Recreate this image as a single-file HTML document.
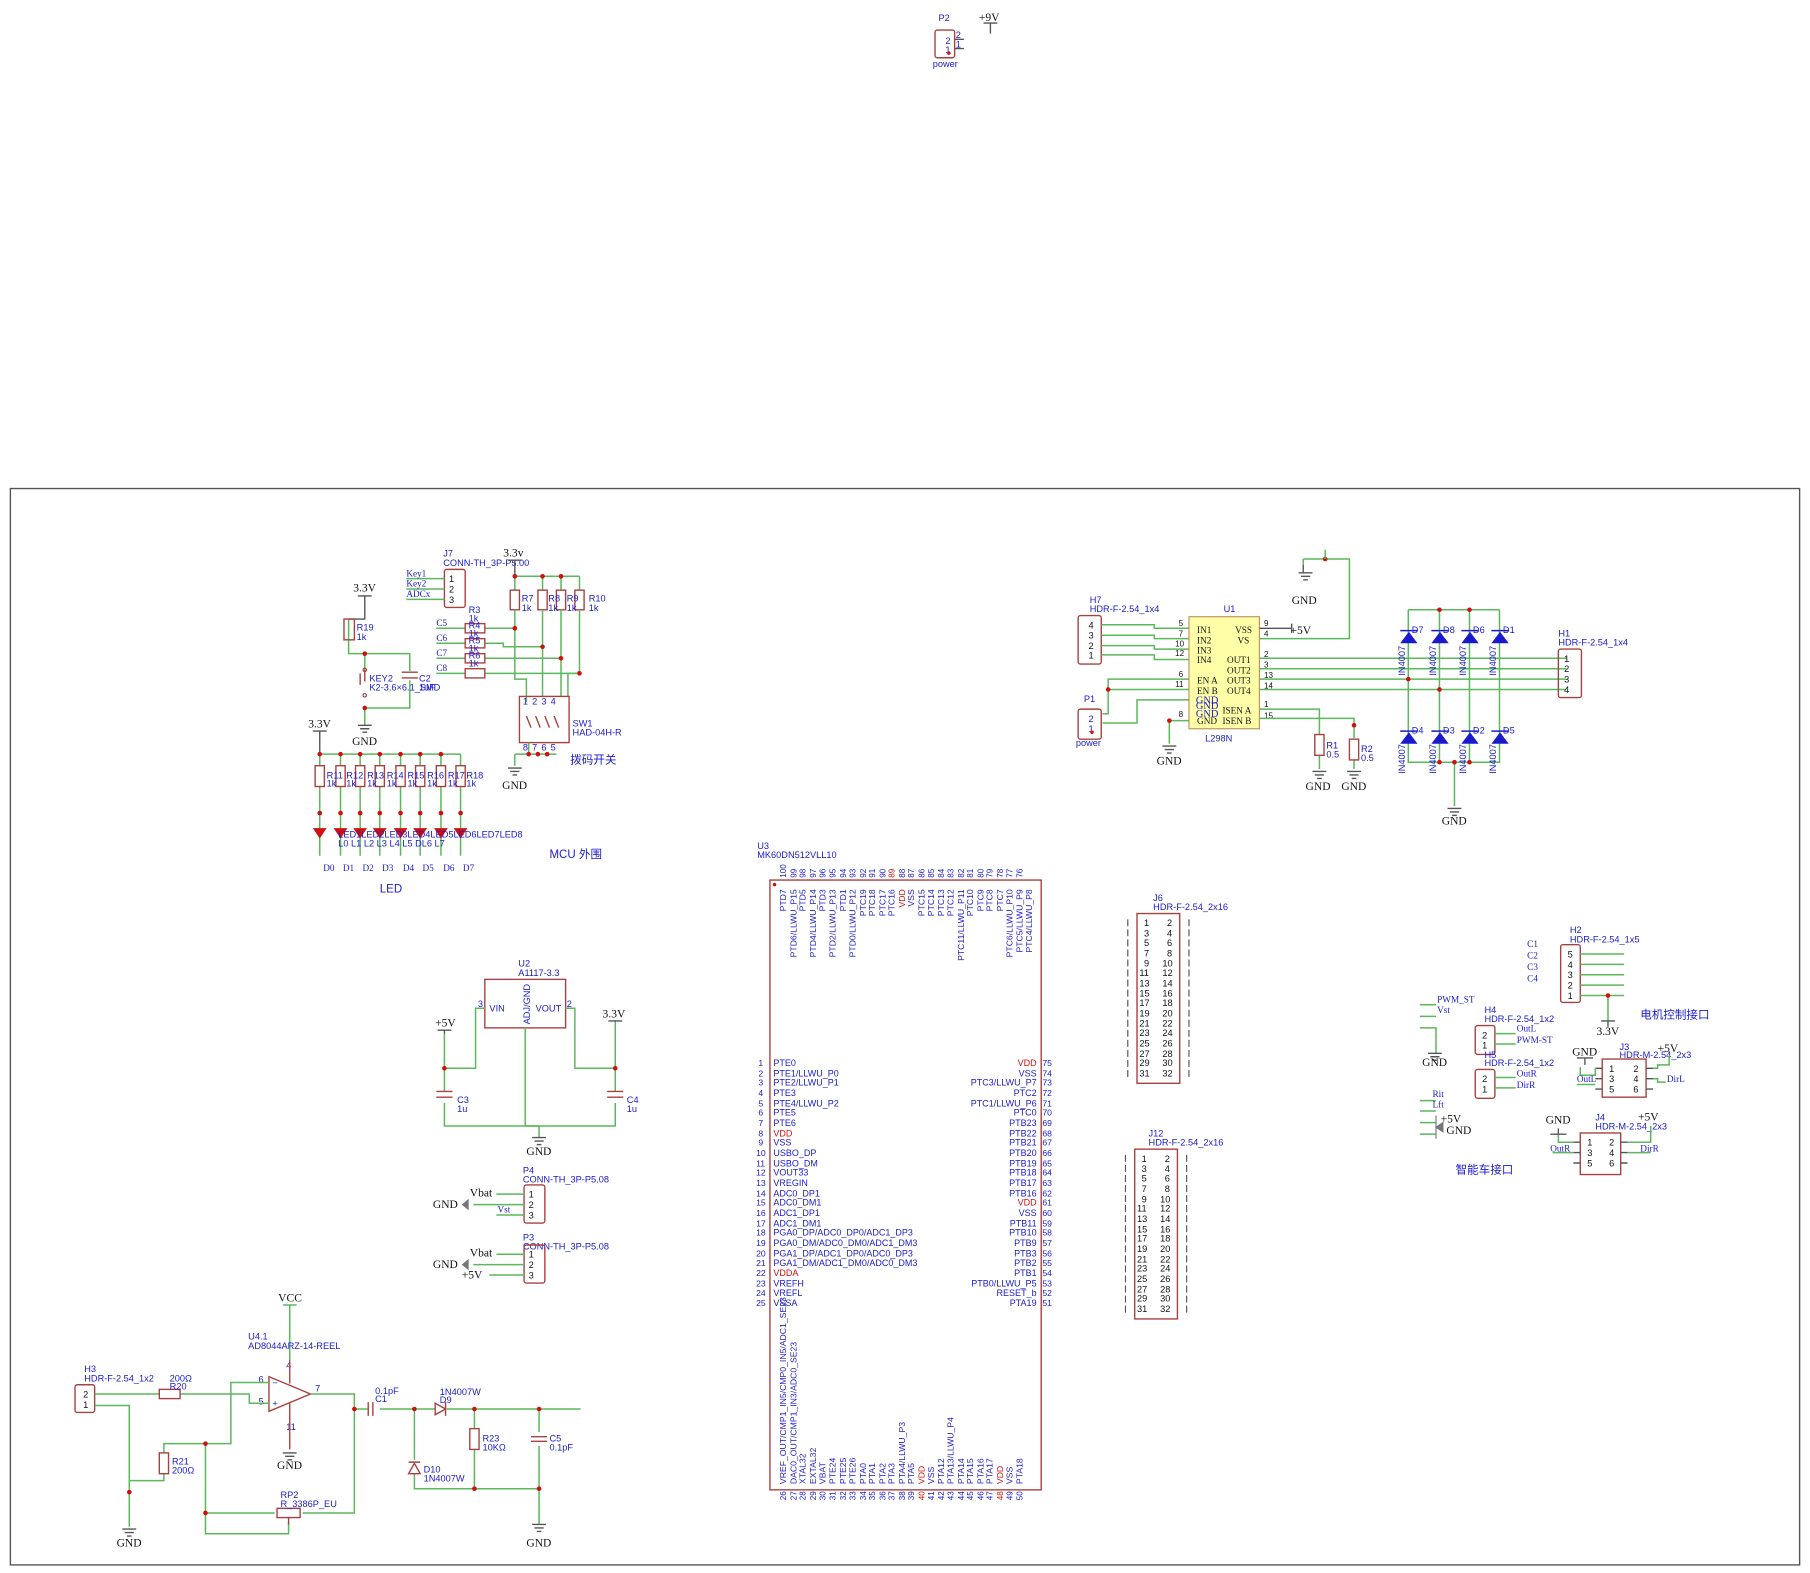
<!DOCTYPE html>
<html><head><meta charset="utf-8"><style>
html,body{margin:0;padding:0;background:#fff;width:1810px;height:1573px;overflow:hidden}
svg{display:block}
.w{stroke:#5cb85c;stroke-width:1.3;fill:none}
.c{stroke:#a84040;stroke-width:1.2;fill:none}
.k{stroke:#555;stroke-width:1.2;fill:none}
.t{font-family:"Liberation Sans","Noto Sans CJK SC",sans-serif;font-size:8px;fill:#1a1acc}
.s{font-family:"Liberation Serif",serif;font-size:10px;fill:#111}
.sb{font-family:"Liberation Serif",serif;font-size:8px;fill:#1a1acc}
.r{fill:#d01010;font-family:"Liberation Sans",sans-serif;font-size:8px}
.d{fill:#d01010}
.n{font-family:"Liberation Sans",sans-serif;font-size:8px;fill:#111}
</style></head><body>
<svg width="1810" height="1573" viewBox="0 0 1568 1362" preserveAspectRatio="none" xmlns="http://www.w3.org/2000/svg">
<!-- top P2 -->
<rect x="810" y="26" width="17" height="24" rx="2" class="c"/>
<text x="819" y="38" class="t">2</text><text x="819" y="46" class="t">1</text>
<path d="M827 34h8M827 42h8" class="k"/><text x="828" y="33" class="t">2</text><text x="828" y="41" class="t">1</text>
<circle cx="822" cy="46" r="1.5" class="d"/>
<text x="813" y="18" class="t">P2</text><text x="808" y="58" class="t">power</text>
<path d="M852 20h12M858 20v9" class="k"/><text x="848" y="18" class="s">+9V</text>

<!-- frame -->
<rect x="9" y="423" width="1550" height="932" fill="none" stroke="#555" stroke-width="1.2"/>

<!-- ===== KEY / J7 / SW1 ===== -->
<text x="306" y="512" class="s">3.3V</text>
<path d="M310 516h12M316 516v20h-14" class="k"/>
<path d="M302 536v30h14v14" class="w"/>
<rect x="298" y="536" width="9" height="18" class="c"/>
<text x="309" y="546" class="t">R19</text><text x="309" y="554" class="t">1k</text>
<path d="M316 566h39v15M355 589v24h-39v15" class="w"/>
<path d="M316 580v10M312 583v10" class="c"/><circle cx="316" cy="580" r="1.5" fill="none" stroke="#a84040"/><circle cx="316" cy="602" r="1.5" fill="none" stroke="#a84040"/>
<path d="M348 582h14M348 587h14" class="c"/>
<text x="320" y="590" class="t">KEY2</text><text x="320" y="598" class="t">K2-3.6×6.1_SMD</text>
<text x="363" y="590" class="t">C2</text><text x="363" y="598" class="t">1uF</text>
<circle cx="316" cy="566" r="2" class="d"/><circle cx="316" cy="613" r="2" class="d"/>
<path d="M310 628h12M312 631h8M314 634h4" class="k"/><text x="305" y="645" class="s">GND</text>

<text x="384" y="482" class="t">J7</text><text x="384" y="490" class="t">CONN-TH_3P-P5.00</text>
<rect x="385" y="493" width="18" height="33" rx="2" class="c"/>
<text x="389" y="504" class="n">1</text><text x="389" y="513" class="n">2</text><text x="389" y="522" class="n">3</text>
<path d="M352 501h33M352 510h33M352 519h33" class="w"/>
<text x="352" y="499" class="sb">Key1</text><text x="352" y="508" class="sb">Key2</text><text x="352" y="517" class="sb">ADCx</text>

<text x="436" y="482" class="s">3.3v</text>
<path d="M440 485h12M446 485v14" class="k"/>
<path d="M446 499h56M446 499v12M470 499v12M486 499v12M502 499v12" class="w"/>
<circle cx="446" cy="499" r="2" class="d"/><circle cx="470" cy="499" r="2" class="d"/><circle cx="486" cy="499" r="2" class="d"/>
<rect x="442" y="511" width="8" height="17" class="c"/><rect x="466" y="511" width="8" height="17" class="c"/><rect x="482" y="511" width="8" height="17" class="c"/><rect x="498" y="511" width="8" height="17" class="c"/>
<text x="452" y="521" class="t">R7</text><text x="452" y="529" class="t">1k</text>
<text x="475" y="521" class="t">R8</text><text x="475" y="529" class="t">1k</text>
<text x="491" y="521" class="t">R9</text><text x="491" y="529" class="t">1k</text>
<text x="510" y="521" class="t">R10</text><text x="510" y="529" class="t">1k</text>
<path d="M446 528v60h10v20M470 528v75M486 528v75M502 528v55h-10v20" class="w"/>
<path d="M378 544h25M420 544h26M378 557h25M420 557h16v3h34M378 570h25M420 570h66M378 583h25M420 583h82" class="w"/>
<rect x="403" y="540" width="17" height="8" class="c"/><rect x="403" y="553" width="17" height="8" class="c"/><rect x="403" y="566" width="17" height="8" class="c"/><rect x="403" y="579" width="17" height="8" class="c"/>
<text x="406" y="531" class="t">R3</text><text x="406" y="538" class="t">1k</text>
<text x="406" y="544" class="t">R4</text><text x="406" y="551" class="t">1k</text>
<text x="406" y="557" class="t">R5</text><text x="406" y="564" class="t">1k</text>
<text x="406" y="570" class="t">R6</text><text x="406" y="577" class="t">1k</text>
<text x="378" y="542" class="sb">C5</text><text x="378" y="555" class="sb">C6</text><text x="378" y="568" class="sb">C7</text><text x="378" y="581" class="sb">C8</text>
<circle cx="446" cy="544" r="2" class="d"/><circle cx="470" cy="560" r="2" class="d"/><circle cx="486" cy="570" r="2" class="d"/><circle cx="502" cy="583" r="2" class="d"/>
<rect x="450" y="603" width="43" height="40" class="c"/>
<path d="M456 620l4 10M464 620l4 10M472 620l4 10M480 620l4 10" class="c"/>
<text x="453" y="610" class="t">1</text><text x="461" y="610" class="t">2</text><text x="469" y="610" class="t">3</text><text x="477" y="610" class="t">4</text>
<text x="453" y="650" class="t">8</text><text x="461" y="650" class="t">7</text><text x="469" y="650" class="t">6</text><text x="477" y="650" class="t">5</text>
<text x="496" y="629" class="t">SW1</text><text x="496" y="637" class="t">HAD-04H-R</text>
<path d="M458 643v10h24M446 653h12v-3M446 653v10" class="w"/>
<circle cx="458" cy="653" r="2" class="d"/><circle cx="466" cy="653" r="2" class="d"/><circle cx="474" cy="653" r="2" class="d"/>
<path d="M440 665h12M442 668h8M444 671h4" class="k"/><text x="435" y="683" class="s">GND</text>
<text x="494" y="661" class="t" style="font-size:10px">拨码开关</text>

<!-- LED -->
<text x="267" y="630" class="s">3.3V</text>
<path d="M271 633h12M277 633v20" class="k"/>
<path d="M277 653h122" class="w"/>
<g class="w">
<path d="M277 653v10M295 653v10M312 653v10M329 653v10M347 653v10M364 653v10M382 653v10M399 653v10"/>
<path d="M277 681v60M295 681v60M312 681v60M329 681v60M347 681v60M364 681v60M382 681v60M399 681v60"/>
</g>
<g class="c">
<rect x="273" y="663" width="8" height="18"/><rect x="291" y="663" width="8" height="18"/><rect x="308" y="663" width="8" height="18"/><rect x="325" y="663" width="8" height="18"/><rect x="343" y="663" width="8" height="18"/><rect x="360" y="663" width="8" height="18"/><rect x="378" y="663" width="8" height="18"/><rect x="395" y="663" width="8" height="18"/>
</g>
<g class="d">
<circle cx="277" cy="653" r="2"/><circle cx="295" cy="653" r="2"/><circle cx="312" cy="653" r="2"/><circle cx="329" cy="653" r="2"/><circle cx="347" cy="653" r="2"/><circle cx="364" cy="653" r="2"/><circle cx="382" cy="653" r="2"/>
<circle cx="277" cy="704" r="2"/><circle cx="295" cy="704" r="2"/><circle cx="312" cy="704" r="2"/><circle cx="329" cy="704" r="2"/><circle cx="347" cy="704" r="2"/><circle cx="364" cy="704" r="2"/><circle cx="382" cy="704" r="2"/><circle cx="399" cy="704" r="2"/>
<path d="M271 717h12l-6 9z"/><path d="M289 717h12l-6 9z"/><path d="M306 717h12l-6 9z"/><path d="M323 717h12l-6 9z"/><path d="M341 717h12l-6 9z"/><path d="M358 717h12l-6 9z"/><path d="M376 717h12l-6 9z"/><path d="M393 717h12l-6 9z"/>
</g>
<text x="283" y="674" class="t">R11</text><text x="283" y="681" class="t">1k</text>
<text x="300" y="674" class="t">R12</text><text x="300" y="681" class="t">1k</text>
<text x="318" y="674" class="t">R13</text><text x="318" y="681" class="t">1k</text>
<text x="335" y="674" class="t">R14</text><text x="335" y="681" class="t">1k</text>
<text x="353" y="674" class="t">R15</text><text x="353" y="681" class="t">1k</text>
<text x="370" y="674" class="t">R16</text><text x="370" y="681" class="t">1k</text>
<text x="388" y="674" class="t">R17</text><text x="388" y="681" class="t">1k</text>
<text x="404" y="674" class="t">R18</text><text x="404" y="681" class="t">1k</text>
<text x="293" y="725" class="t">LED1LED2LED3LED4LED5LED6LED7LED8</text>
<text x="293" y="733" class="t">L0  L1  L2  L3  L4  L5  DL6 L7</text>
<text x="280" y="754" class="sb">D0</text><text x="297" y="754" class="sb">D1</text><text x="314" y="754" class="sb">D2</text><text x="331" y="754" class="sb">D3</text><text x="349" y="754" class="sb">D4</text><text x="366" y="754" class="sb">D5</text><text x="384" y="754" class="sb">D6</text><text x="401" y="754" class="sb">D7</text>
<text x="329" y="773" class="t" style="font-size:10px">LED</text>
<text x="476" y="743" class="t" style="font-size:10px">MCU 外围</text>

<!-- U2 regulator -->
<text x="449" y="837" class="t">U2</text><text x="449" y="845" class="t">A1117-3.3</text>
<rect x="420" y="848" width="70" height="42" class="c"/>
<text x="424" y="876" class="t">VIN</text><text x="464" y="876" class="t">VOUT</text>
<text x="459" y="887" class="t" transform="rotate(-90 459 887)">ADJ/GND</text>
<text x="414" y="872" class="t">3</text><text x="491" y="872" class="t">2</text>
<path d="M420 873h-8v52h-27M490 873h8v52h35M385 895v30M533 885v40M455 890v85h12" class="w"/>
<path d="M385 925v20M533 925v20M385 955v20h148v-20M467 975v10" class="w"/>
<path d="M378 945h14M378 950h14M526 945h14M526 950h14" class="c"/>
<text x="396" y="955" class="t">C3</text><text x="396" y="963" class="t">1u</text>
<text x="543" y="955" class="t">C4</text><text x="543" y="963" class="t">1u</text>
<circle cx="385" cy="925" r="2" class="d"/><circle cx="533" cy="925" r="2" class="d"/>
<text x="377" y="889" class="s">+5V</text><path d="M379 892h12M385 892v3" class="k"/>
<text x="522" y="881" class="s">3.3V</text><path d="M527 884h12M533 884v1" class="k"/>
<path d="M461 985h12M463 988h8M465 991h4" class="k"/><text x="456" y="1000" class="s">GND</text>

<!-- P4 P3 -->
<text x="453" y="1016" class="t">P4</text><text x="453" y="1024" class="t">CONN-TH_3P-P5.08</text>
<rect x="454" y="1026" width="18" height="33" rx="2" class="c"/>
<text x="458" y="1037" class="n">1</text><text x="458" y="1046" class="n">2</text><text x="458" y="1055" class="n">3</text>
<path d="M430 1034h24M410 1043h44M430 1052h24" class="w"/>
<text x="407" y="1036" class="s">Vbat</text><text x="431" y="1050" class="sb">Vst</text><text x="375" y="1046" class="s">GND</text>
<path d="M400 1043l6-5v10z" fill="#777"/>
<text x="453" y="1074" class="t">P3</text><text x="453" y="1082" class="t">CONN-TH_3P-P5.08</text>
<rect x="454" y="1078" width="18" height="33" rx="2" class="c"/>
<text x="458" y="1089" class="n">1</text><text x="458" y="1098" class="n">2</text><text x="458" y="1107" class="n">3</text>
<path d="M430 1086h24M410 1095h44M424 1104h30" class="w"/>
<text x="407" y="1088" class="s">Vbat</text><text x="400" y="1107" class="s">+5V</text><text x="375" y="1098" class="s">GND</text>
<path d="M400 1095l6-5v10z" fill="#777"/>

<!-- opamp section -->
<text x="241" y="1127" class="s">VCC</text>
<path d="M245 1130h12M251 1130v48" class="w"/>
<text x="215" y="1160" class="t">U4.1</text><text x="215" y="1168" class="t">AD8044ARZ-14-REEL</text>
<path d="M233 1192v30l36-15z" class="c"/>
<text x="236" y="1200" class="t">−</text><text x="236" y="1218" class="t">+</text>
<text x="224" y="1197" class="t">6</text><text x="224" y="1216" class="t">5</text><text x="273" y="1205" class="t">7</text>
<text x="248" y="1185" class="t">4</text><text x="248" y="1238" class="t">11</text>
<path d="M251 1178v20M251 1215v40" class="c"/>
<text x="240" y="1272" class="s">GND</text><path d="M245 1258h12M247 1261h8M249 1264h4" class="k"/>
<rect x="65" y="1199" width="17" height="24" rx="2" class="c"/>
<text x="72" y="1210" class="n">2</text><text x="72" y="1219" class="n">1</text>
<text x="73" y="1188" class="t">H3</text><text x="73" y="1196" class="t">HDR-F-2.54_1x2</text>
<path d="M82 1207h56M156 1207h60v8h17M82 1217h30v75M112 1292v30" class="w"/>
<rect x="138" y="1203" width="18" height="8" class="c"/>
<text x="147" y="1196" class="t">200Ω</text><text x="147" y="1203" class="t">R20</text>
<path d="M233 1197h-33v53h-58v8M142 1276v6h-30M178 1250v60h60M178 1310v18h72v-10M262 1310h45v-90M269 1207h38v13M307 1220h12M329 1220h30M359 1220h18M387 1220h116M359 1220v44M359 1276v13h108M411 1220v17M411 1255v34M467 1220v20M467 1252v68" class="w"/>
<rect x="138" y="1258" width="8" height="18" class="c"/>
<text x="149" y="1268" class="t">R21</text><text x="149" y="1276" class="t">200Ω</text>
<rect x="240" y="1306" width="20" height="8" class="c"/><path d="M250 1314v6" class="c"/>
<text x="243" y="1297" class="t">RP2</text><text x="243" y="1305" class="t">R_3386P_EU</text>
<path d="M319 1214v12M323 1214v12" class="c"/><text x="325" y="1207" class="t">0.1pF</text><text x="325" y="1214" class="t">C1</text>
<path d="M377 1215v10l9-5zM386 1214v12" class="c"/><text x="381" y="1208" class="t">1N4007W</text><text x="381" y="1215" class="t">D9</text>
<path d="M354 1276h10l-5-9zM354 1266h10" class="c"/><text x="367" y="1275" class="t">D10</text><text x="367" y="1283" class="t">1N4007W</text>
<rect x="407" y="1237" width="8" height="18" class="c"/><text x="418" y="1248" class="t">R23</text><text x="418" y="1256" class="t">10KΩ</text>
<path d="M460 1244h14M460 1248h14" class="c"/><text x="476" y="1248" class="t">C5</text><text x="476" y="1256" class="t">0.1pF</text>
<g class="d"><circle cx="112" cy="1292" r="2"/><circle cx="178" cy="1250" r="2"/><circle cx="178" cy="1310" r="2"/><circle cx="307" cy="1220" r="2"/><circle cx="359" cy="1220" r="2"/><circle cx="411" cy="1220" r="2"/><circle cx="467" cy="1220" r="2"/><circle cx="411" cy="1289" r="2"/><circle cx="467" cy="1289" r="2"/></g>
<path d="M106 1324h12M108 1327h8M110 1330h4" class="k"/><text x="101" y="1339" class="s">GND</text>
<path d="M461 1320h12M463 1323h8M465 1326h4" class="k"/><text x="456" y="1339" class="s">GND</text>

<!-- ===== MCU U3 ===== -->
<text x="656" y="735" class="t">U3</text><text x="656" y="743" class="t">MK60DN512VLL10</text>
<rect x="667" y="762" width="235" height="528" class="c"/>
<circle cx="671" cy="766" r="1.5" class="d"/>
<g class="t" style="font-size:7.5px">
<text transform="translate(681,770) rotate(-90)" text-anchor="end">PTD7</text>
<text transform="translate(690,770) rotate(-90)" text-anchor="end">PTD6/LLWU_P15</text>
<text transform="translate(698,770) rotate(-90)" text-anchor="end">PTD5</text>
<text transform="translate(707,770) rotate(-90)" text-anchor="end">PTD4/LLWU_P14</text>
<text transform="translate(715,770) rotate(-90)" text-anchor="end">PTD3</text>
<text transform="translate(724,770) rotate(-90)" text-anchor="end">PTD2/LLWU_P13</text>
<text transform="translate(733,770) rotate(-90)" text-anchor="end">PTD1</text>
<text transform="translate(741,770) rotate(-90)" text-anchor="end">PTD0/LLWU_P12</text>
<text transform="translate(750,770) rotate(-90)" text-anchor="end">PTC19</text>
<text transform="translate(758,770) rotate(-90)" text-anchor="end">PTC18</text>
<text transform="translate(767,770) rotate(-90)" text-anchor="end">PTC17</text>
<text transform="translate(775,770) rotate(-90)" text-anchor="end">PTC16</text>
<text transform="translate(784,770) rotate(-90)" text-anchor="end" fill="#d01010">VDD</text>
<text transform="translate(792,770) rotate(-90)" text-anchor="end">VSS</text>
<text transform="translate(801,770) rotate(-90)" text-anchor="end">PTC15</text>
<text transform="translate(809,770) rotate(-90)" text-anchor="end">PTC14</text>
<text transform="translate(818,770) rotate(-90)" text-anchor="end">PTC13</text>
<text transform="translate(826,770) rotate(-90)" text-anchor="end">PTC12</text>
<text transform="translate(835,770) rotate(-90)" text-anchor="end">PTC11/LLWU_P11</text>
<text transform="translate(843,770) rotate(-90)" text-anchor="end">PTC10</text>
<text transform="translate(852,770) rotate(-90)" text-anchor="end">PTC9</text>
<text transform="translate(860,770) rotate(-90)" text-anchor="end">PTC8</text>
<text transform="translate(869,770) rotate(-90)" text-anchor="end">PTC7</text>
<text transform="translate(877,770) rotate(-90)" text-anchor="end">PTC6/LLWU_P10</text>
<text transform="translate(886,770) rotate(-90)" text-anchor="end">PTC5/LLWU_P9</text>
<text transform="translate(894,770) rotate(-90)" text-anchor="end">PTC4/LLWU_P8</text>
</g>
<g class="t" style="font-size:7px">
<text transform="translate(681,760) rotate(-90)">100</text><text transform="translate(690,760) rotate(-90)">99</text><text transform="translate(698,760) rotate(-90)">98</text><text transform="translate(707,760) rotate(-90)">97</text><text transform="translate(715,760) rotate(-90)">96</text><text transform="translate(724,760) rotate(-90)">95</text><text transform="translate(733,760) rotate(-90)">94</text><text transform="translate(741,760) rotate(-90)">93</text><text transform="translate(750,760) rotate(-90)">92</text><text transform="translate(758,760) rotate(-90)">91</text><text transform="translate(767,760) rotate(-90)">90</text><text transform="translate(775,760) rotate(-90)" fill="#d01010">89</text><text transform="translate(784,760) rotate(-90)">88</text><text transform="translate(792,760) rotate(-90)">87</text><text transform="translate(801,760) rotate(-90)">86</text><text transform="translate(809,760) rotate(-90)">85</text><text transform="translate(818,760) rotate(-90)">84</text><text transform="translate(826,760) rotate(-90)">83</text><text transform="translate(835,760) rotate(-90)">82</text><text transform="translate(843,760) rotate(-90)">81</text><text transform="translate(852,760) rotate(-90)">80</text><text transform="translate(860,760) rotate(-90)">79</text><text transform="translate(869,760) rotate(-90)">78</text><text transform="translate(877,760) rotate(-90)">77</text><text transform="translate(886,760) rotate(-90)">76</text>
</g>
<g class="t" style="font-size:7.8px">
<text x="670" y="923">PTE0</text><text x="670" y="932">PTE1/LLWU_P0</text><text x="670" y="940">PTE2/LLWU_P1</text><text x="670" y="949">PTE3</text><text x="670" y="958">PTE4/LLWU_P2</text><text x="670" y="966">PTE5</text><text x="670" y="975">PTE6</text><text x="670" y="984" fill="#d01010">VDD</text><text x="670" y="992">VSS</text><text x="670" y="1001">USBO_DP</text><text x="670" y="1010">USBO_DM</text><text x="670" y="1018">VOUT33</text><text x="670" y="1027">VREGIN</text><text x="670" y="1036">ADC0_DP1</text><text x="670" y="1044">ADC0_DM1</text><text x="670" y="1053">ADC1_DP1</text><text x="670" y="1062">ADC1_DM1</text><text x="670" y="1070">PGA0_DP/ADC0_DP0/ADC1_DP3</text><text x="670" y="1079">PGA0_DM/ADC0_DM0/ADC1_DM3</text><text x="670" y="1088">PGA1_DP/ADC1_DP0/ADC0_DP3</text><text x="670" y="1096">PGA1_DM/ADC1_DM0/ADC0_DM3</text><text x="670" y="1105" fill="#d01010">VDDA</text><text x="670" y="1114">VREFH</text><text x="670" y="1122">VREFL</text><text x="670" y="1131">VSSA</text>
</g>
<g class="t" style="font-size:7.8px" text-anchor="end">
<text x="898" y="923" fill="#d01010">VDD</text><text x="898" y="932">VSS</text><text x="898" y="940">PTC3/LLWU_P7</text><text x="898" y="949">PTC2</text><text x="898" y="958">PTC1/LLWU_P6</text><text x="898" y="966">PTC0</text><text x="898" y="975">PTB23</text><text x="898" y="984">PTB22</text><text x="898" y="992">PTB21</text><text x="898" y="1001">PTB20</text><text x="898" y="1010">PTB19</text><text x="898" y="1018">PTB18</text><text x="898" y="1027">PTB17</text><text x="898" y="1036">PTB16</text><text x="898" y="1044" fill="#d01010">VDD</text><text x="898" y="1053">VSS</text><text x="898" y="1062">PTB11</text><text x="898" y="1070">PTB10</text><text x="898" y="1079">PTB9</text><text x="898" y="1088">PTB3</text><text x="898" y="1096">PTB2</text><text x="898" y="1105">PTB1</text><text x="898" y="1114">PTB0/LLWU_P5</text><text x="898" y="1122">RESET_b</text><text x="898" y="1131">PTA19</text>
</g>
<g class="t" style="font-size:7.5px">
<text x="657" y="923">1</text><text x="657" y="932">2</text><text x="657" y="940">3</text><text x="657" y="949">4</text><text x="657" y="958">5</text><text x="657" y="966">6</text><text x="657" y="975">7</text><text x="657" y="984">8</text><text x="657" y="992">9</text><text x="655" y="1001">10</text><text x="655" y="1010">11</text><text x="655" y="1018">12</text><text x="655" y="1027">13</text><text x="655" y="1036">14</text><text x="655" y="1044">15</text><text x="655" y="1053">16</text><text x="655" y="1062">17</text><text x="655" y="1070">18</text><text x="655" y="1079">19</text><text x="655" y="1088">20</text><text x="655" y="1096">21</text><text x="655" y="1105">22</text><text x="655" y="1114">23</text><text x="655" y="1122">24</text><text x="655" y="1131">25</text>
<text x="903" y="923">75</text><text x="903" y="932">74</text><text x="903" y="940">73</text><text x="903" y="949">72</text><text x="903" y="958">71</text><text x="903" y="966">70</text><text x="903" y="975">69</text><text x="903" y="984">68</text><text x="903" y="992">67</text><text x="903" y="1001">66</text><text x="903" y="1010">65</text><text x="903" y="1018">64</text><text x="903" y="1027">63</text><text x="903" y="1036">62</text><text x="903" y="1044">61</text><text x="903" y="1053">60</text><text x="903" y="1062">59</text><text x="903" y="1070">58</text><text x="903" y="1079">57</text><text x="903" y="1088">56</text><text x="903" y="1096">55</text><text x="903" y="1105">54</text><text x="903" y="1114">53</text><text x="903" y="1122">52</text><text x="903" y="1131">51</text>
</g>
<g class="t" style="font-size:7.5px">
<text transform="translate(681,1285) rotate(-90)">VREF_OUT/CMP1_IN5/CMP0_IN5/ADC1_SE23</text>
<text transform="translate(690,1285) rotate(-90)">DAC0_OUT/CMP1_IN3/ADC0_SE23</text>
<text transform="translate(698,1285) rotate(-90)">XTAL32</text>
<text transform="translate(707,1285) rotate(-90)">EXTAL32</text>
<text transform="translate(715,1285) rotate(-90)">VBAT</text>
<text transform="translate(724,1285) rotate(-90)">PTE24</text>
<text transform="translate(733,1285) rotate(-90)">PTE25</text>
<text transform="translate(741,1285) rotate(-90)">PTE26</text>
<text transform="translate(750,1285) rotate(-90)">PTA0</text>
<text transform="translate(758,1285) rotate(-90)">PTA1</text>
<text transform="translate(767,1285) rotate(-90)">PTA2</text>
<text transform="translate(775,1285) rotate(-90)">PTA3</text>
<text transform="translate(784,1285) rotate(-90)">PTA4/LLWU_P3</text>
<text transform="translate(792,1285) rotate(-90)">PTA5</text>
<text transform="translate(801,1285) rotate(-90)" fill="#d01010">VDD</text>
<text transform="translate(809,1285) rotate(-90)">VSS</text>
<text transform="translate(818,1285) rotate(-90)">PTA12</text>
<text transform="translate(826,1285) rotate(-90)">PTA13/LLWU_P4</text>
<text transform="translate(835,1285) rotate(-90)">PTA14</text>
<text transform="translate(843,1285) rotate(-90)">PTA15</text>
<text transform="translate(852,1285) rotate(-90)">PTA16</text>
<text transform="translate(860,1285) rotate(-90)">PTA17</text>
<text transform="translate(869,1285) rotate(-90)" fill="#d01010">VDD</text>
<text transform="translate(877,1285) rotate(-90)">VSS</text>
<text transform="translate(886,1285) rotate(-90)">PTA18</text>
</g>
<g class="t" style="font-size:7px">
<text transform="translate(681,1299) rotate(-90)">26</text><text transform="translate(690,1299) rotate(-90)">27</text><text transform="translate(698,1299) rotate(-90)">28</text><text transform="translate(707,1299) rotate(-90)">29</text><text transform="translate(715,1299) rotate(-90)">30</text><text transform="translate(724,1299) rotate(-90)">31</text><text transform="translate(733,1299) rotate(-90)">32</text><text transform="translate(741,1299) rotate(-90)">33</text><text transform="translate(750,1299) rotate(-90)">34</text><text transform="translate(758,1299) rotate(-90)">35</text><text transform="translate(767,1299) rotate(-90)">36</text><text transform="translate(775,1299) rotate(-90)">37</text><text transform="translate(784,1299) rotate(-90)">38</text><text transform="translate(792,1299) rotate(-90)">39</text><text transform="translate(801,1299) rotate(-90)" fill="#d01010">40</text><text transform="translate(809,1299) rotate(-90)">41</text><text transform="translate(818,1299) rotate(-90)">42</text><text transform="translate(826,1299) rotate(-90)">43</text><text transform="translate(835,1299) rotate(-90)">44</text><text transform="translate(843,1299) rotate(-90)">45</text><text transform="translate(852,1299) rotate(-90)">46</text><text transform="translate(860,1299) rotate(-90)">47</text><text transform="translate(869,1299) rotate(-90)" fill="#d01010">48</text><text transform="translate(877,1299) rotate(-90)">49</text><text transform="translate(886,1299) rotate(-90)">50</text>
</g>

<!-- J6 / J12 -->
<text x="999" y="780" class="t">J6</text><text x="999" y="788" class="t">HDR-F-2.54_2x16</text>
<rect x="985" y="791" width="37" height="147" class="c"/>
<path d="M977 796v137M1030 796v137" stroke="#555" stroke-width="1" stroke-dasharray="6 2.7"/>
<g class="n" style="font-size:8px">
<text x="991" y="802">1</text><text x="1011" y="802">2</text><text x="991" y="811">3</text><text x="1011" y="811">4</text><text x="991" y="819">5</text><text x="1011" y="819">6</text><text x="991" y="828">7</text><text x="1011" y="828">8</text><text x="991" y="837">9</text><text x="1007" y="837">10</text><text x="987" y="845">11</text><text x="1007" y="845">12</text><text x="987" y="854">13</text><text x="1007" y="854">14</text><text x="987" y="863">15</text><text x="1007" y="863">16</text><text x="987" y="871">17</text><text x="1007" y="871">18</text><text x="987" y="880">19</text><text x="1007" y="880">20</text><text x="987" y="889">21</text><text x="1007" y="889">22</text><text x="987" y="897">23</text><text x="1007" y="897">24</text><text x="987" y="906">25</text><text x="1007" y="906">26</text><text x="987" y="915">27</text><text x="1007" y="915">28</text><text x="987" y="923">29</text><text x="1007" y="923">30</text><text x="987" y="932">31</text><text x="1007" y="932">32</text>
</g>
<text x="995" y="984" class="t">J12</text><text x="995" y="992" class="t">HDR-F-2.54_2x16</text>
<rect x="983" y="995" width="37" height="147" class="c"/>
<path d="M975 1000v137M1028 1000v137" stroke="#555" stroke-width="1" stroke-dasharray="6 2.7"/>
<g class="n" style="font-size:8px">
<text x="989" y="1006">1</text><text x="1009" y="1006">2</text><text x="989" y="1015">3</text><text x="1009" y="1015">4</text><text x="989" y="1023">5</text><text x="1009" y="1023">6</text><text x="989" y="1032">7</text><text x="1009" y="1032">8</text><text x="989" y="1041">9</text><text x="1005" y="1041">10</text><text x="985" y="1049">11</text><text x="1005" y="1049">12</text><text x="985" y="1058">13</text><text x="1005" y="1058">14</text><text x="985" y="1067">15</text><text x="1005" y="1067">16</text><text x="985" y="1075">17</text><text x="1005" y="1075">18</text><text x="985" y="1084">19</text><text x="1005" y="1084">20</text><text x="985" y="1093">21</text><text x="1005" y="1093">22</text><text x="985" y="1101">23</text><text x="1005" y="1101">24</text><text x="985" y="1110">25</text><text x="1005" y="1110">26</text><text x="985" y="1119">27</text><text x="1005" y="1119">28</text><text x="985" y="1127">29</text><text x="1005" y="1127">30</text><text x="985" y="1136">31</text><text x="1005" y="1136">32</text>
</g>

<!-- ===== L298N ===== -->
<text x="944" y="522" class="t">H7</text><text x="944" y="530" class="t">HDR-F-2.54_1x4</text>
<rect x="934" y="533" width="20" height="42" rx="2" class="c"/>
<text x="943" y="544" class="n">4</text><text x="943" y="553" class="n">3</text><text x="943" y="562" class="n">2</text><text x="943" y="570" class="n">1</text>
<path d="M954 541h46v3h30M954 550h46v3h30M954 559h46v3h30M954 567h46v4h30" class="w"/>
<rect x="1030" y="534" width="61" height="97" fill="#ffffa8" stroke="#c09060" stroke-width="1"/>
<text x="1060" y="530" class="t">U1</text><text x="1044" y="642" class="t">L298N</text>
<g class="n" style="font-family:'Liberation Serif',serif;font-size:8px">
<text x="1037" y="548">IN1</text><text x="1037" y="557">IN2</text><text x="1037" y="566">IN3</text><text x="1037" y="574">IN4</text>
<text x="1037" y="592">EN A</text><text x="1037" y="601">EN B</text><text x="1037" y="627">GND</text>
<text x="1070" y="548">VSS</text><text x="1072" y="557">VS</text><text x="1063" y="574">OUT1</text><text x="1063" y="583">OUT2</text><text x="1063" y="592">OUT3</text><text x="1063" y="601">OUT4</text><text x="1059" y="618">ISEN A</text><text x="1059" y="627">ISEN B</text>
</g>
<g class="sb" style="font-size:9px"><text x="1036" y="609">GND</text><text x="1036" y="614">GND</text><text x="1036" y="621">GND</text></g>
<g class="n" style="font-size:7px">
<text x="1021" y="542">5</text><text x="1021" y="551">7</text><text x="1018" y="560">10</text><text x="1018" y="568">12</text><text x="1021" y="586">6</text><text x="1018" y="595">11</text><text x="1021" y="621">8</text>
<text x="1095" y="542">9</text><text x="1095" y="551">4</text><text x="1095" y="569">2</text><text x="1095" y="578">3</text><text x="1095" y="587">13</text><text x="1095" y="596">14</text><text x="1095" y="612">1</text><text x="1095" y="622">15</text>
</g>
<path d="M1091 544h28M1119 540v8" class="k"/><text x="1118" y="549" class="s">+5V</text>
<path d="M1091 553h78v-69h-40M1129 484v5" class="w"/><circle cx="1148" cy="484" r="2" class="d"/><path d="M1148 484v-8" class="w"/>
<path d="M1125 496h12M1127 499h8M1129 502h4M1129 489v7" class="k"/><text x="1119" y="523" class="s">GND</text>
<path d="M1091 570h266M1091 579h266M1091 588h266M1091 597h266" class="w"/>
<path d="M1030 588h-70v30h-5M960 597h70M1030 606h-45v20h-30M1030 624h-17v20" class="w"/>
<circle cx="960" cy="597" r="2" class="d"/><circle cx="1013" cy="624" r="2" class="d"/>
<path d="M1007 646h12M1009 649h8M1011 652h4" class="k"/><text x="1002" y="662" class="s">GND</text>
<rect x="934" y="614" width="20" height="26" rx="2" class="c"/>
<text x="943" y="625" class="t">2</text><text x="943" y="634" class="t">1</text><circle cx="946" cy="634" r="1.5" class="d"/>
<text x="939" y="608" class="t">P1</text><text x="932" y="646" class="t">power</text>
<path d="M1091 614h52v22M1091 622h82v17M1143 654v12M1173 658v8" class="w"/>
<rect x="1139" y="636" width="8" height="18" class="c"/><rect x="1169" y="640" width="8" height="18" class="c"/>
<circle cx="1173" cy="628" r="2" class="d"/>
<text x="1149" y="648" class="t">R1</text><text x="1149" y="656" class="t">0.5</text>
<text x="1179" y="651" class="t">R2</text><text x="1179" y="659" class="t">0.5</text>
<path d="M1137 668h12M1139 671h8M1141 674h4M1167 668h12M1169 671h8M1171 674h4" class="k"/>
<text x="1131" y="684" class="s">GND</text><text x="1162" y="684" class="s">GND</text>
<!-- bridge diodes -->
<path d="M1220 528h79M1220 528v132h79v-132M1247 528v132M1273 528v132M1260 660v38" class="w"/>
<g fill="#1a1acc">
<path d="M1213 557h15l-7.5-10z"/><path d="M1240 557h15l-7.5-10z"/><path d="M1266 557h15l-7.5-10z"/><path d="M1292 557h15l-7.5-10z"/>
<path d="M1213 644h15l-7.5-10z"/><path d="M1240 644h15l-7.5-10z"/><path d="M1266 644h15l-7.5-10z"/><path d="M1292 644h15l-7.5-10z"/>
</g>
<g stroke="#1a1acc" stroke-width="1.3"><path d="M1213 546h15M1240 546h15M1266 546h15M1292 546h15M1213 633h15M1240 633h15M1266 633h15M1292 633h15"/></g>
<g class="d"><circle cx="1247" cy="528" r="2"/><circle cx="1273" cy="528" r="2"/><circle cx="1220" cy="588" r="2"/><circle cx="1247" cy="597" r="2"/><circle cx="1247" cy="660" r="2"/><circle cx="1260" cy="660" r="2"/><circle cx="1273" cy="660" r="2"/></g>
<g class="t"><text x="1223" y="548">D7</text><text x="1250" y="548">D8</text><text x="1276" y="548">D6</text><text x="1302" y="548">D1</text><text x="1223" y="635">D4</text><text x="1250" y="635">D3</text><text x="1276" y="635">D2</text><text x="1302" y="635">D5</text>
<text transform="translate(1217,585) rotate(-90)">IN4007</text><text transform="translate(1244,585) rotate(-90)">IN4007</text><text transform="translate(1270,585) rotate(-90)">IN4007</text><text transform="translate(1296,585) rotate(-90)">IN4007</text>
<text transform="translate(1217,670) rotate(-90)">IN4007</text><text transform="translate(1244,670) rotate(-90)">IN4007</text><text transform="translate(1270,670) rotate(-90)">IN4007</text><text transform="translate(1296,670) rotate(-90)">IN4007</text></g>
<path d="M1254 700h12M1256 703h8M1258 706h4" class="k"/><text x="1249" y="714" class="s">GND</text>
<text x="1350" y="551" class="t">H1</text><text x="1350" y="559" class="t">HDR-F-2.54_1x4</text>
<rect x="1350" y="562" width="20" height="42" rx="2" class="c"/>
<text x="1355" y="573" class="n">1</text><text x="1355" y="582" class="n">2</text><text x="1355" y="591" class="n">3</text><text x="1355" y="600" class="n">4</text>

<!-- right connectors -->
<text x="1360" y="808" class="t">H2</text><text x="1360" y="816" class="t">HDR-F-2.54_1x5</text>
<rect x="1352" y="818" width="17" height="50" rx="2" class="c"/>
<g class="n"><text x="1358" y="829">5</text><text x="1358" y="838">4</text><text x="1358" y="847">3</text><text x="1358" y="856">2</text><text x="1358" y="865">1</text></g>
<path d="M1369 826h38M1369 835h38M1369 844h38M1369 853h38M1369 862h38M1393 862v22" class="w"/>
<circle cx="1393" cy="862" r="2" class="d"/>
<path d="M1387 884h12M1393 884v5" class="k"/><text x="1383" y="896" class="s">3.3V</text>
<g class="sb"><text x="1323" y="820">C1</text><text x="1323" y="830">C2</text><text x="1323" y="840">C3</text><text x="1323" y="850">C4</text></g>
<text x="1421" y="882" class="t" style="font-size:10px">电机控制接口</text>
<path d="M1230 870h14M1230 880h14M1230 890h14v22" class="w"/>
<text x="1245" y="868" class="sb">PWM_ST</text><text x="1245" y="877" class="sb">Vst</text>
<path d="M1237 912h12M1239 915h8M1241 918h4" class="k"/><text x="1232" y="923" class="s">GND</text>
<text x="1286" y="877" class="t">H4</text><text x="1286" y="885" class="t">HDR-F-2.54_1x2</text>
<rect x="1278" y="888" width="17" height="25" rx="2" class="c"/>
<text x="1284" y="899" class="n">2</text><text x="1284" y="908" class="n">1</text>
<path d="M1295 895h18M1295 904h18" class="w"/><text x="1314" y="893" class="sb">OutL</text><text x="1314" y="903" class="sb">PWM-ST</text>
<text x="1286" y="916" class="t">H5</text><text x="1286" y="923" class="t">HDR-F-2.54_1x2</text>
<rect x="1278" y="926" width="17" height="25" rx="2" class="c"/>
<text x="1284" y="937" class="n">2</text><text x="1284" y="946" class="n">1</text>
<path d="M1295 933h18M1295 942h18" class="w"/><text x="1314" y="932" class="sb">OutR</text><text x="1314" y="942" class="sb">DirR</text>
<path d="M1230 953h14M1230 962h14M1230 972h14M1230 982h14" class="w"/>
<text x="1241" y="950" class="sb">Rit</text><text x="1241" y="959" class="sb">Lft</text>
<path d="M1244 966v20M1244 976l6-4v8z" fill="#777" stroke="#777"/>
<text x="1248" y="972" class="s">+5V</text><text x="1253" y="982" class="s">GND</text>
<text x="1261" y="1016" class="t" style="font-size:10px">智能车接口</text>
<text x="1403" y="909" class="t">J3</text><text x="1403" y="916" class="t">HDR-M-2.54_2x3</text>
<rect x="1388" y="917" width="38" height="33" class="c"/>
<g class="n"><text x="1394" y="928">1</text><text x="1415" y="928">2</text><text x="1394" y="937">3</text><text x="1415" y="937">4</text><text x="1394" y="946">5</text><text x="1415" y="946">6</text></g>
<path d="M1382 925h6M1382 934h6M1382 943h6M1426 925h6M1426 934h6M1426 943h6" class="k"/>
<path d="M1369 924v7h13v-6M1366 939h16M1432 925h4v-3h10v-8M1432 934h4v3h7" class="w"/>
<path d="M1366 916h14M1373 916v6" class="k"/><text x="1362" y="914" class="s">GND</text>
<text x="1436" y="911" class="s">+5V</text><text x="1366" y="937" class="sb">OutL</text><text x="1444" y="937" class="sb">DirL</text>
<text x="1382" y="970" class="t">J4</text><text x="1382" y="978" class="t">HDR-M-2.54_2x3</text>
<rect x="1369" y="981" width="35" height="36" class="c"/>
<g class="n"><text x="1375" y="992">1</text><text x="1394" y="992">2</text><text x="1375" y="1001">3</text><text x="1394" y="1001">4</text><text x="1375" y="1010">5</text><text x="1394" y="1010">6</text></g>
<path d="M1363 989h6M1363 998h6M1363 1007h6M1404 989h6M1404 998h6M1404 1007h6" class="k"/>
<path d="M1350 982v7h13M1345 998h18M1410 989h20v-14M1410 998h20" class="w"/>
<path d="M1343 982h14M1350 982v-5" class="k"/><text x="1339" y="973" class="s">GND</text>
<text x="1419" y="970" class="s">+5V</text><text x="1343" y="997" class="sb">OutR</text><text x="1421" y="997" class="sb">DirR</text>
</svg>
</body></html>
